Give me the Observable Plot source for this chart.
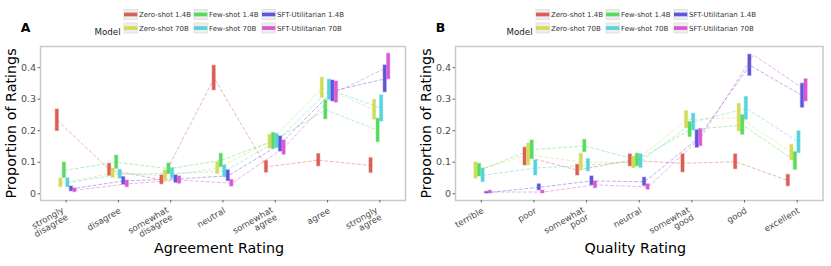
<!DOCTYPE html>
<html>
<head>
<meta charset="utf-8">
<script src="https://cdn.jsdelivr.net/npm/d3@7"></script>
<script src="https://cdn.jsdelivr.net/npm/@observablehq/plot@0.6"></script>
<style>
  html, body { margin: 0; padding: 0; background: #fff; }
  #root { display: flex; width: 831px; height: 266px; font-family: "DejaVu Sans", sans-serif; }
  .panel { position: relative; height: 266px; }
  .panel svg.overlay { position: absolute; left: 0; top: 0; pointer-events: none; }
</style>
</head>
<body>
<div id="root"></div>
<script>
// ---------- data ----------
const models = ["Zero-shot 1.4B", "Zero-shot 70B", "Few-shot 1.4B", "Few-shot 70B", "SFT-Utilitarian 1.4B", "SFT-Utilitarian 70B"];
const colors = ["#db5f57", "#d3db57", "#57db5f", "#57d3db", "#5f57db", "#db57d3"];
const yTicks = [0, 0.1, 0.2, 0.3, 0.4];

const agreementCats = ["strongly\ndisagree", "disagree", "somewhat\ndisagree", "neutral", "somewhat\nagree", "agree", "strongly\nagree"];
const qualityCats = ["terrible", "poor", "somewhat\npoor", "neutral", "somewhat\ngood", "good", "excellent"];

// lower / upper ends of each interval, one row per model (same order as models)
const agreementLow = [
  [0.199, 0.057, 0.030, 0.328, 0.067, 0.087, 0.066],
  [0.021, 0.050, 0.040, 0.063, 0.143, 0.304, 0.235],
  [0.050, 0.079, 0.063, 0.085, 0.143, 0.236, 0.164],
  [0.021, 0.048, 0.048, 0.053, 0.145, 0.298, 0.229],
  [0.008, 0.029, 0.035, 0.040, 0.134, 0.293, 0.322],
  [0.005, 0.021, 0.032, 0.023, 0.124, 0.289, 0.363]
];
const agreementHigh = [
  [0.267, 0.095, 0.058, 0.406, 0.104, 0.126, 0.113],
  [0.048, 0.080, 0.074, 0.100, 0.187, 0.368, 0.298],
  [0.099, 0.121, 0.096, 0.127, 0.193, 0.296, 0.238],
  [0.049, 0.076, 0.081, 0.090, 0.190, 0.362, 0.312],
  [0.023, 0.053, 0.058, 0.074, 0.182, 0.359, 0.407],
  [0.017, 0.042, 0.055, 0.044, 0.169, 0.356, 0.444]
];
const qualityLow = [
  [null, 0.090, 0.058, 0.087, 0.068, 0.078, 0.024],
  [0.048, 0.090, 0.074, 0.081, 0.208, 0.198, 0.106],
  [0.055, 0.111, 0.132, 0.087, 0.180, 0.187, 0.076],
  [0.037, 0.058, 0.071, 0.082, 0.201, 0.235, 0.129],
  [0.001, 0.011, 0.027, 0.025, 0.146, 0.374, 0.273],
  [0.001, 0.001, 0.018, 0.013, 0.151, 0.440, 0.293]
];
const qualityHigh = [
  [null, 0.146, 0.092, 0.125, 0.125, 0.125, 0.060],
  [0.099, 0.159, 0.127, 0.118, 0.262, 0.285, 0.155],
  [0.095, 0.169, 0.171, 0.127, 0.227, 0.249, 0.132],
  [0.080, 0.106, 0.110, 0.125, 0.254, 0.307, 0.198],
  [0.006, 0.030, 0.055, 0.051, 0.201, 0.441, 0.349],
  [0.010, 0.010, 0.039, 0.030, 0.205, 0.440, 0.363]
];

// ---------- drawing ----------
const DODGE = 0.0675;  // dodge step in category units
const HALF = 0.03;     // half bar width in category units
const FONT = "DejaVu Sans";

function panel({cats, low, high, xlabel, letter, width, marginRight, legendDx}) {
  const rows = [];
  models.forEach((m, i) => cats.forEach((c, j) => {
    const lo = low[i][j], hi = high[i][j];
    if (lo == null || hi == null) return;
    rows.push({model: m, j, x: j + (i - 2.5) * DODGE, lo, hi, mid: (lo + hi) / 2});
  }));
  const bars = rows.filter(d => d.hi > d.lo);
  const catRows = cats.map((c, j) => ({c, j}));
  const single = catRows.filter(d => !d.c.includes("\n"));
  const multi = catRows.filter(d => d.c.includes("\n"));

  const chart = Plot.plot({
    width, height: 266,
    marginTop: 46, marginBottom: 66, marginLeft: 40, marginRight,
    x: {type: "linear", domain: [-0.49, cats.length - 1 + 0.49]},
    y: {domain: [-0.0213, 0.467]},
    color: {domain: models, range: colors},
    style: {fontFamily: FONT, background: "white", overflow: "visible"},
    marks: [
      Plot.frame({stroke: "#c9c9c9", strokeWidth: 1.5}),
      Plot.line(rows, {x: "x", y: "mid", z: "model", stroke: "model", strokeDasharray: "3,2.5", strokeOpacity: 0.45, strokeWidth: 1}),
      Plot.rect(bars, {x1: d => d.x - HALF, x2: d => d.x + HALF, y1: "lo", y2: "hi", fill: "model", stroke: "model", strokeOpacity: 0.35, strokeWidth: 1.3}),
      Plot.axisY(yTicks, {tickFormat: d => d === 0 ? "0" : d3.format(".1f")(d), tickSize: 2.5, tickPadding: 2, fontSize: 9.5, stroke: "#666", fill: "#4d4d4d", label: null}),
      Plot.axisX(catRows.map(d => d.j), {tickSize: 2.5, tickFormat: () => "", stroke: "#666", label: null}),
      Plot.text(single, {x: "j", text: "c", frameAnchor: "bottom", dy: 6.5, rotate: -30, textAnchor: "end", lineAnchor: "top", fontSize: 8.7, fill: "#4d4d4d"}),
      Plot.text(multi, {x: "j", text: "c", frameAnchor: "bottom", dy: 6, dx: -4.5, rotate: -30, textAnchor: "end", lineAnchor: "top", lineHeight: 0.95, fontSize: 8.7, fill: "#4d4d4d"}),
      Plot.text([xlabel], {frameAnchor: "bottom", dy: 52, dx: -4, textAnchor: "middle", fontSize: 14.3, fill: "#000"}),
      Plot.text(["Proportion of Ratings"], {frameAnchor: "left", dx: -29, rotate: -90, textAnchor: "middle", lineAnchor: "middle", fontSize: 14.3, fill: "#000"})
    ]
  });

  const div = document.createElement("div");
  div.className = "panel";
  div.style.width = width + "px";
  div.appendChild(chart);

  // legend + panel letter overlay
  const svg = d3.create("svg").attr("class", "overlay").attr("width", width).attr("height", 44)
    .style("font-family", FONT);
  svg.append("text").attr("x", 20.7).attr("y", 32.3).attr("font-size", 12.5).attr("font-weight", "bold").attr("fill", "#000").text(letter);
  svg.append("text").attr("x", 94.5 + legendDx).attr("y", 35).attr("font-size", 8.7).attr("fill", "#1a1a1a").text("Model");
  const colX = [124, 194, 262];
  const rowY = [9.4, 23];
  models.forEach((m, i) => {
    const x = colX[Math.floor(i / 2)] + legendDx, y = rowY[i % 2];
    svg.append("rect").attr("x", x).attr("y", y).attr("width", 13.3).attr("height", 10)
      .attr("fill", "#eeeeee").attr("stroke", "#dddddd").attr("stroke-width", 0.8);
    svg.append("rect").attr("x", x).attr("y", y + 3.2).attr("width", 13.3).attr("height", 3.7).attr("fill", colors[i]);
    svg.append("text").attr("x", x + 15).attr("y", y + 7.6).attr("font-size", 7).attr("fill", "#333").text(m);
  });
  div.appendChild(svg.node());
  return div;
}

const root = document.getElementById("root");
root.appendChild(panel({cats: agreementCats, low: agreementLow, high: agreementHigh, xlabel: "Agreement Rating", letter: "A", width: 415, marginRight: 10, legendDx: 0}));
root.appendChild(panel({cats: qualityCats, low: qualityLow, high: qualityHigh, xlabel: "Quality Rating", letter: "B", width: 416, marginRight: 8.5, legendDx: -3}));
</script>
</body>
</html>
